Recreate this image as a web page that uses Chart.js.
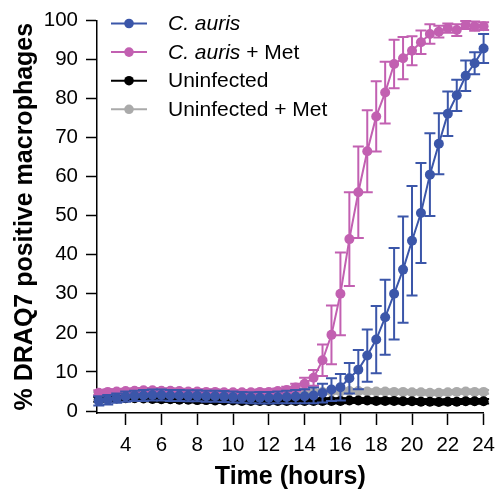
<!DOCTYPE html>
<html>
<head>
<meta charset="utf-8">
<script src="https://cdn.jsdelivr.net/npm/chart.js@4.4.1/dist/chart.umd.min.js"></script>
<style>
  html, body { margin: 0; padding: 0; background: #fff; }
  #wrap { width: 503px; height: 495px; }
</style>
</head>
<body>
<div id="wrap"><canvas id="deathChart" width="503" height="495"></canvas></div>
<script>
// time points (hours), one every 30 min
const hours = [2.5, 3, 3.5, 4, 4.5, 5, 5.5, 6, 6.5, 7, 7.5, 8, 8.5, 9, 9.5, 10, 10.5, 11, 11.5, 12,
  12.5, 13, 13.5, 14, 14.5, 15, 15.5, 16, 16.5, 17, 17.5, 18, 18.5, 19, 19.5, 20, 20.5, 21, 21.5, 22,
  22.5, 23, 23.5, 24];

const cauris = [2.6, 2.9, 3.3, 3.7, 3.9, 4.0, 4.1, 4.1, 4.0, 4.0, 3.9, 3.9, 3.8, 3.8, 3.7, 3.6, 3.5, 3.4, 3.4, 3.4,
  3.5, 3.6, 3.7, 3.8, 4.0, 4.6, 5.5, 6.1, 8.4, 10.6, 14.2, 18.3, 24.0, 30.0, 36.2, 43.6, 50.7, 60.5, 68.4, 76.1,
  80.8, 85.8, 89.0, 92.8];
const caurisErr = [1.2, 1.2, 1.2, 1.3, 1.3, 1.4, 1.4, 1.4, 1.4, 1.4, 1.4, 1.4, 1.4, 1.4, 1.4, 1.4, 1.4, 1.4, 1.5, 1.5,
  1.5, 1.6, 1.7, 1.8, 2.0, 2.4, 2.9, 3.4, 3.9, 5.0, 6.7, 8.6, 9.6, 11.7, 13.6, 14.0, 12.8, 10.6, 7.8, 5.7,
  4.0, 3.9, 2.8, 3.7];

const caurisMet = [4.7, 4.9, 5.0, 5.1, 5.2, 5.3, 5.3, 5.2, 5.2, 5.1, 5.0, 5.0, 4.9, 4.9, 4.8, 4.8, 4.8, 4.8, 4.9, 4.9,
  5.1, 5.4, 6.0, 7.0, 8.5, 13.0, 19.5, 30.0, 44.0, 56.0, 66.5, 75.4, 81.5, 88.8, 90.3, 92.2, 94.4, 96.5, 97.1, 98.0,
  97.5, 98.8, 98.5, 98.5];
const caurisMetErr = [0.6, 0.6, 0.6, 0.6, 0.6, 0.6, 0.6, 0.6, 0.6, 0.6, 0.6, 0.6, 0.6, 0.6, 0.6, 0.6, 0.6, 0.6, 0.6, 0.6,
  0.7, 0.8, 1.0, 1.5, 2.0, 4.0, 7.5, 10.6, 12.0, 11.7, 10.5, 9.0, 7.9, 6.2, 5.4, 3.7, 3.0, 2.5, 1.5, 1.2,
  1.5, 1.0, 1.2, 1.0];

const uninfected = [3.0, 3.1, 3.2, 3.3, 3.3, 3.2, 3.1, 3.0, 3.0, 2.9, 2.9, 2.8, 2.8, 2.7, 2.7, 2.7, 2.6, 2.6, 2.6, 2.6,
  2.6, 2.6, 2.6, 2.6, 2.6, 2.6, 2.6, 2.6, 2.7, 2.7, 2.7, 2.6, 2.6, 2.6, 2.5, 2.5, 2.4, 2.4, 2.3, 2.4,
  2.4, 2.5, 2.5, 2.5];
const uninfectedErr = [0.6, 0.6, 0.6, 0.6, 0.6, 0.6, 0.6, 0.6, 0.6, 0.6, 0.6, 0.6, 0.6, 0.6, 0.6, 0.6, 0.6, 0.6, 0.6, 0.6,
  0.6, 0.6, 0.6, 0.6, 0.6, 0.6, 0.6, 0.6, 0.6, 0.6, 0.6, 0.6, 0.6, 0.6, 0.6, 0.6, 0.6, 0.6, 0.6, 0.6,
  0.6, 0.6, 0.6, 0.6];

const uninfectedMet = [4.4, 4.6, 4.8, 4.9, 5.0, 5.0, 5.0, 4.9, 4.9, 4.8, 4.8, 4.7, 4.7, 4.7, 4.6, 4.6, 4.6, 4.6, 4.6, 4.6,
  4.6, 4.7, 4.7, 4.8, 4.8, 4.9, 5.0, 5.0, 5.1, 5.1, 5.0, 5.0, 5.0, 4.9, 4.9, 4.8, 4.8, 4.7, 4.7, 4.8,
  4.9, 5.0, 4.9, 4.9];
const uninfectedMetErr = [0.5, 0.5, 0.5, 0.5, 0.5, 0.5, 0.5, 0.5, 0.5, 0.5, 0.5, 0.5, 0.5, 0.5, 0.5, 0.5, 0.5, 0.5, 0.5, 0.5,
  0.5, 0.5, 0.5, 0.5, 0.5, 0.5, 0.5, 0.5, 0.5, 0.5, 0.5, 0.5, 0.5, 0.5, 0.5, 0.5, 0.5, 0.5, 0.5, 0.5,
  0.5, 0.5, 0.5, 0.5];

const xTicks = [4, 6, 8, 10, 12, 14, 16, 18, 20, 22, 24];
const yTicks = [0, 10, 20, 30, 40, 50, 60, 70, 80, 90, 100];

const blue = "#3b56a9";
const pink = "#c260b1";
const black = "#000000";
const grey = "#aaaaaa";

// legend rows: [text, italic] pieces
const legendParts = [
  [["C. auris", true]],
  [["C. auris", true], [" + Met", false]],
  [["Uninfected", false]],
  [["Uninfected + Met", false]],
];

const FONT = "'Liberation Sans', Arial, Helvetica, sans-serif";
Chart.defaults.font.family = FONT;
Chart.defaults.color = "#000";

const toPoints = (vals) => hours.map((h, i) => ({ x: h, y: vals[i] }));

const makeSet = (label, vals, errs, color) => ({
  label: label,
  data: toPoints(vals),
  errors: errs,
  borderColor: color,
  backgroundColor: color,
  borderWidth: 2,
  pointRadius: 5,
  pointHoverRadius: 5,
  pointBorderWidth: 0,
  pointBackgroundColor: color,
  tension: 0,
  clip: 6,
});

// draws the SD bars under each dataset's line and dots
const errorBars = {
  id: "errorBars",
  beforeDatasetDraw(chart, args) {
    const ds = chart.data.datasets[args.index];
    if (!ds.errors) return;
    const ctx = chart.ctx;
    const xs = chart.scales.x;
    const ys = chart.scales.y;
    ctx.save();
    ctx.strokeStyle = ds.borderColor;
    ctx.lineWidth = 2;
    ds.data.forEach((p, i) => {
      const e = ds.errors[i];
      const px = xs.getPixelForValue(p.x);
      const top = ys.getPixelForValue(p.y + e);
      const bot = ys.getPixelForValue(p.y - e);
      ctx.beginPath();
      ctx.moveTo(px, top);
      ctx.lineTo(px, bot);
      ctx.moveTo(px - 5.5, top);
      ctx.lineTo(px + 5.5, top);
      ctx.moveTo(px - 5.5, bot);
      ctx.lineTo(px + 5.5, bot);
      ctx.stroke();
    });
    ctx.restore();
  },
};

// legend with line + dot marker and partly italic text
const dotLegend = {
  id: "dotLegend",
  afterDraw(chart) {
    const ctx = chart.ctx;
    ctx.save();
    chart.data.datasets.forEach((ds, k) => {
      const cy = 23.5 + k * 28.6;
      ctx.strokeStyle = ds.borderColor;
      ctx.lineWidth = 2;
      ctx.beginPath();
      ctx.moveTo(111, cy);
      ctx.lineTo(147, cy);
      ctx.stroke();
      ctx.fillStyle = ds.borderColor;
      ctx.beginPath();
      ctx.arc(129, cy, 4.8, 0, Math.PI * 2);
      ctx.fill();
      ctx.fillStyle = "#000";
      ctx.textBaseline = "middle";
      let tx = 168;
      legendParts[k].forEach(([txt, italic]) => {
        ctx.font = (italic ? "italic " : "") + "21px " + FONT;
        ctx.fillText(txt, tx, cy + 1);
        tx += ctx.measureText(txt).width;
      });
    });
    ctx.restore();
  },
};

const ctx = document.getElementById("deathChart").getContext("2d");
new Chart(ctx, {
  type: "line",
  data: {
    datasets: [
      makeSet("C. auris", cauris, caurisErr, blue),
      makeSet("C. auris + Met", caurisMet, caurisMetErr, pink),
      makeSet("Uninfected", uninfected, uninfectedErr, black),
      makeSet("Uninfected + Met", uninfectedMet, uninfectedMetErr, grey),
    ],
  },
  options: {
    responsive: false,
    animation: false,
    devicePixelRatio: 1,
    layout: { padding: { top: 20, right: 10, left: 0, bottom: 0 } },
    plugins: {
      legend: { display: false },
      tooltip: { enabled: false },
    },
    scales: {
      x: {
        type: "linear",
        min: 2.4,
        max: 24,
        afterBuildTicks: (scale) => {
          scale.ticks = xTicks.map((v) => ({ value: v }));
        },
        afterFit: (scale) => {
          scale.height = 82;
        },
        ticks: {
          font: { size: 20.5 },
          color: "#000",
          padding: 8,
          maxRotation: 0,
          autoSkip: false,
        },
        grid: {
          display: true,
          drawOnChartArea: false,
          drawTicks: true,
          tickLength: 12,
          tickWidth: 1.5,
          tickColor: "#000",
        },
        border: { display: true, color: "#000", width: 1.5 },
        title: {
          display: true,
          text: "Time (hours)",
          font: { size: 25, weight: "bold" },
          color: "#000",
          padding: { top: 0, bottom: 3 },
        },
      },
      y: {
        min: -0.5,
        max: 100,
        afterBuildTicks: (scale) => {
          scale.ticks = yTicks.map((v) => ({ value: v }));
        },
        afterFit: (scale) => {
          scale.width = 97;
        },
        ticks: {
          font: { size: 20.5 },
          color: "#000",
          padding: 8,
        },
        grid: {
          display: true,
          drawOnChartArea: false,
          drawTicks: true,
          tickLength: 11,
          tickWidth: 1.5,
          tickColor: "#000",
        },
        border: { display: true, color: "#000", width: 1.5 },
        title: {
          display: true,
          text: "% DRAQ7 positive macrophages",
          font: { size: 25, weight: "bold" },
          color: "#000",
          padding: { top: 10, bottom: 0 },
        },
      },
    },
  },
  plugins: [errorBars, dotLegend],
});
</script>
</body>
</html>
